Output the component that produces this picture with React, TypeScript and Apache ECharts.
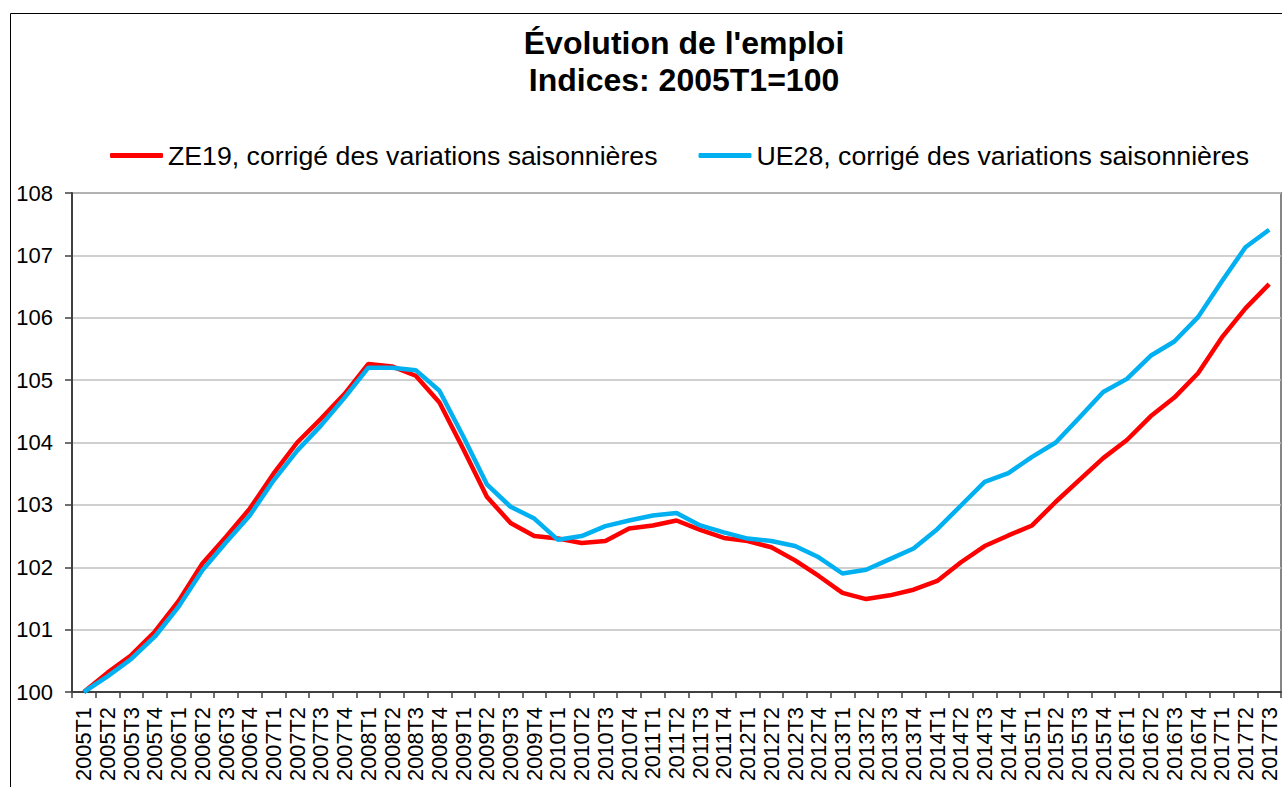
import React, { useEffect, useRef } from "react";
import * as echarts from "echarts";

const CATEGORIES = [
  "2005T1", "2005T2", "2005T3", "2005T4",
  "2006T1", "2006T2", "2006T3", "2006T4",
  "2007T1", "2007T2", "2007T3", "2007T4",
  "2008T1", "2008T2", "2008T3", "2008T4",
  "2009T1", "2009T2", "2009T3", "2009T4",
  "2010T1", "2010T2", "2010T3", "2010T4",
  "2011T1", "2011T2", "2011T3", "2011T4",
  "2012T1", "2012T2", "2012T3", "2012T4",
  "2013T1", "2013T2", "2013T3", "2013T4",
  "2014T1", "2014T2", "2014T3", "2014T4",
  "2015T1", "2015T2", "2015T3", "2015T4",
  "2016T1", "2016T2", "2016T3", "2016T4",
  "2017T1", "2017T2", "2017T3",
];

const ZE19 = [
  100, 100.31, 100.59, 100.97, 101.46, 102.06, 102.49, 102.94, 103.5, 104.0,
  104.38, 104.78, 105.26, 105.22, 105.07, 104.64, 103.9, 103.13, 102.71, 102.5,
  102.46, 102.39, 102.42, 102.62, 102.67, 102.75, 102.6, 102.47, 102.42, 102.32,
  102.11, 101.86, 101.59, 101.49, 101.55, 101.64, 101.78, 102.08, 102.34, 102.51,
  102.67, 103.05, 103.4, 103.75, 104.04, 104.42, 104.72, 105.11, 105.68, 106.15,
  106.54,
];

const UE28 = [
  100, 100.25, 100.53, 100.89, 101.37, 101.95, 102.4, 102.83, 103.39, 103.87,
  104.27, 104.72, 105.2, 105.2, 105.16, 104.83, 104.1, 103.33, 102.97, 102.78,
  102.44, 102.5, 102.66, 102.75, 102.83, 102.87, 102.67, 102.56, 102.46, 102.42,
  102.34, 102.16, 101.9, 101.96, 102.13, 102.3, 102.61, 102.99, 103.37, 103.51,
  103.77, 104.0, 104.4, 104.81, 105.02, 105.39, 105.62, 106.01, 106.58, 107.13,
  107.41,
];

const NAME_ZE = "ZE19, corrigé des variations saisonnières";
const NAME_UE = "UE28, corrigé des variations saisonnières";
const TITLE = "Évolution de l'emploi\nIndices: 2005T1=100";

const FONT = "'Liberation Sans', Arial, sans-serif";

export default function App() {
  const ref = useRef<HTMLDivElement>(null);

  useEffect(() => {
    if (!ref.current) return;
    const chart = echarts.init(ref.current, undefined, { renderer: "svg" });
    chart.setOption({
      animation: false,
      backgroundColor: "#fff",
      textStyle: { fontFamily: FONT, color: "#000" },
      title: {
        text: TITLE,
        left: 684,
        top: 24,
        padding: 0,
        textAlign: "center",
        textStyle: {
          fontFamily: FONT,
          fontSize: 32,
          fontWeight: "bold",
          lineHeight: 37.5,
          color: "#000",
        },
      },
      legend: {
        left: 110,
        top: 142,
        padding: 0,
        itemWidth: 53,
        itemHeight: 5,
        itemGap: 41,
        icon: "roundRect",
        textStyle: { fontFamily: FONT, fontSize: 26.7, color: "#000" },
        data: [NAME_ZE, NAME_UE],
      },
      graphic: [
        {
          type: "rect",
          shape: { x: 10.5, y: 13.5, width: 1400, height: 900 },
          style: { fill: "none", stroke: "#000", lineWidth: 1 },
          silent: true,
          z: -10,
        },
      ],
      grid: {
        left: 72,
        right: 1,
        top: 193,
        bottom: 95,
        show: true,
        borderColor: "#868686",
        borderWidth: 2,
        backgroundColor: "transparent",
      },
      xAxis: {
        type: "category",
        data: CATEGORIES,
        boundaryGap: true,
        axisLine: { lineStyle: { color: "#404040", width: 2 } },
        axisTick: {
          show: true,
          alignWithLabel: false,
          interval: 0,
          length: 6,
          lineStyle: { color: "#404040", width: 1.5 },
        },
        axisLabel: {
          interval: 0,
          rotate: 90,
          margin: 15,
          fontSize: 21.8,
          fontFamily: FONT,
          color: "#000",
        },
        splitLine: { show: false },
      },
      yAxis: {
        type: "value",
        min: 100,
        max: 108,
        interval: 1,
        axisLine: { show: true, lineStyle: { color: "#404040", width: 2 } },
        axisTick: {
          show: true,
          inside: false,
          length: 7,
          lineStyle: { color: "#404040", width: 1.5 },
        },
        axisLabel: {
          margin: 19,
          fontSize: 22,
          fontFamily: FONT,
          color: "#000",
        },
        splitLine: { show: true, lineStyle: { color: "#c0c0c0", width: 1.5 } },
      },
      series: [
        {
          name: NAME_ZE,
          type: "line",
          data: ZE19,
          showSymbol: false,
          symbol: "none",
          lineStyle: { color: "#ff0000", width: 4.5 },
          itemStyle: { color: "#ff0000" },
          z: 2,
        },
        {
          name: NAME_UE,
          type: "line",
          data: UE28,
          showSymbol: false,
          symbol: "none",
          lineStyle: { color: "#00b0f0", width: 4.5 },
          itemStyle: { color: "#00b0f0" },
          z: 3,
        },
      ],
    });
    return () => chart.dispose();
  }, []);

  return (
    <div
      ref={ref}
      style={{ position: "fixed", left: 0, top: 0, width: 1282, height: 787 }}
    />
  );
}
